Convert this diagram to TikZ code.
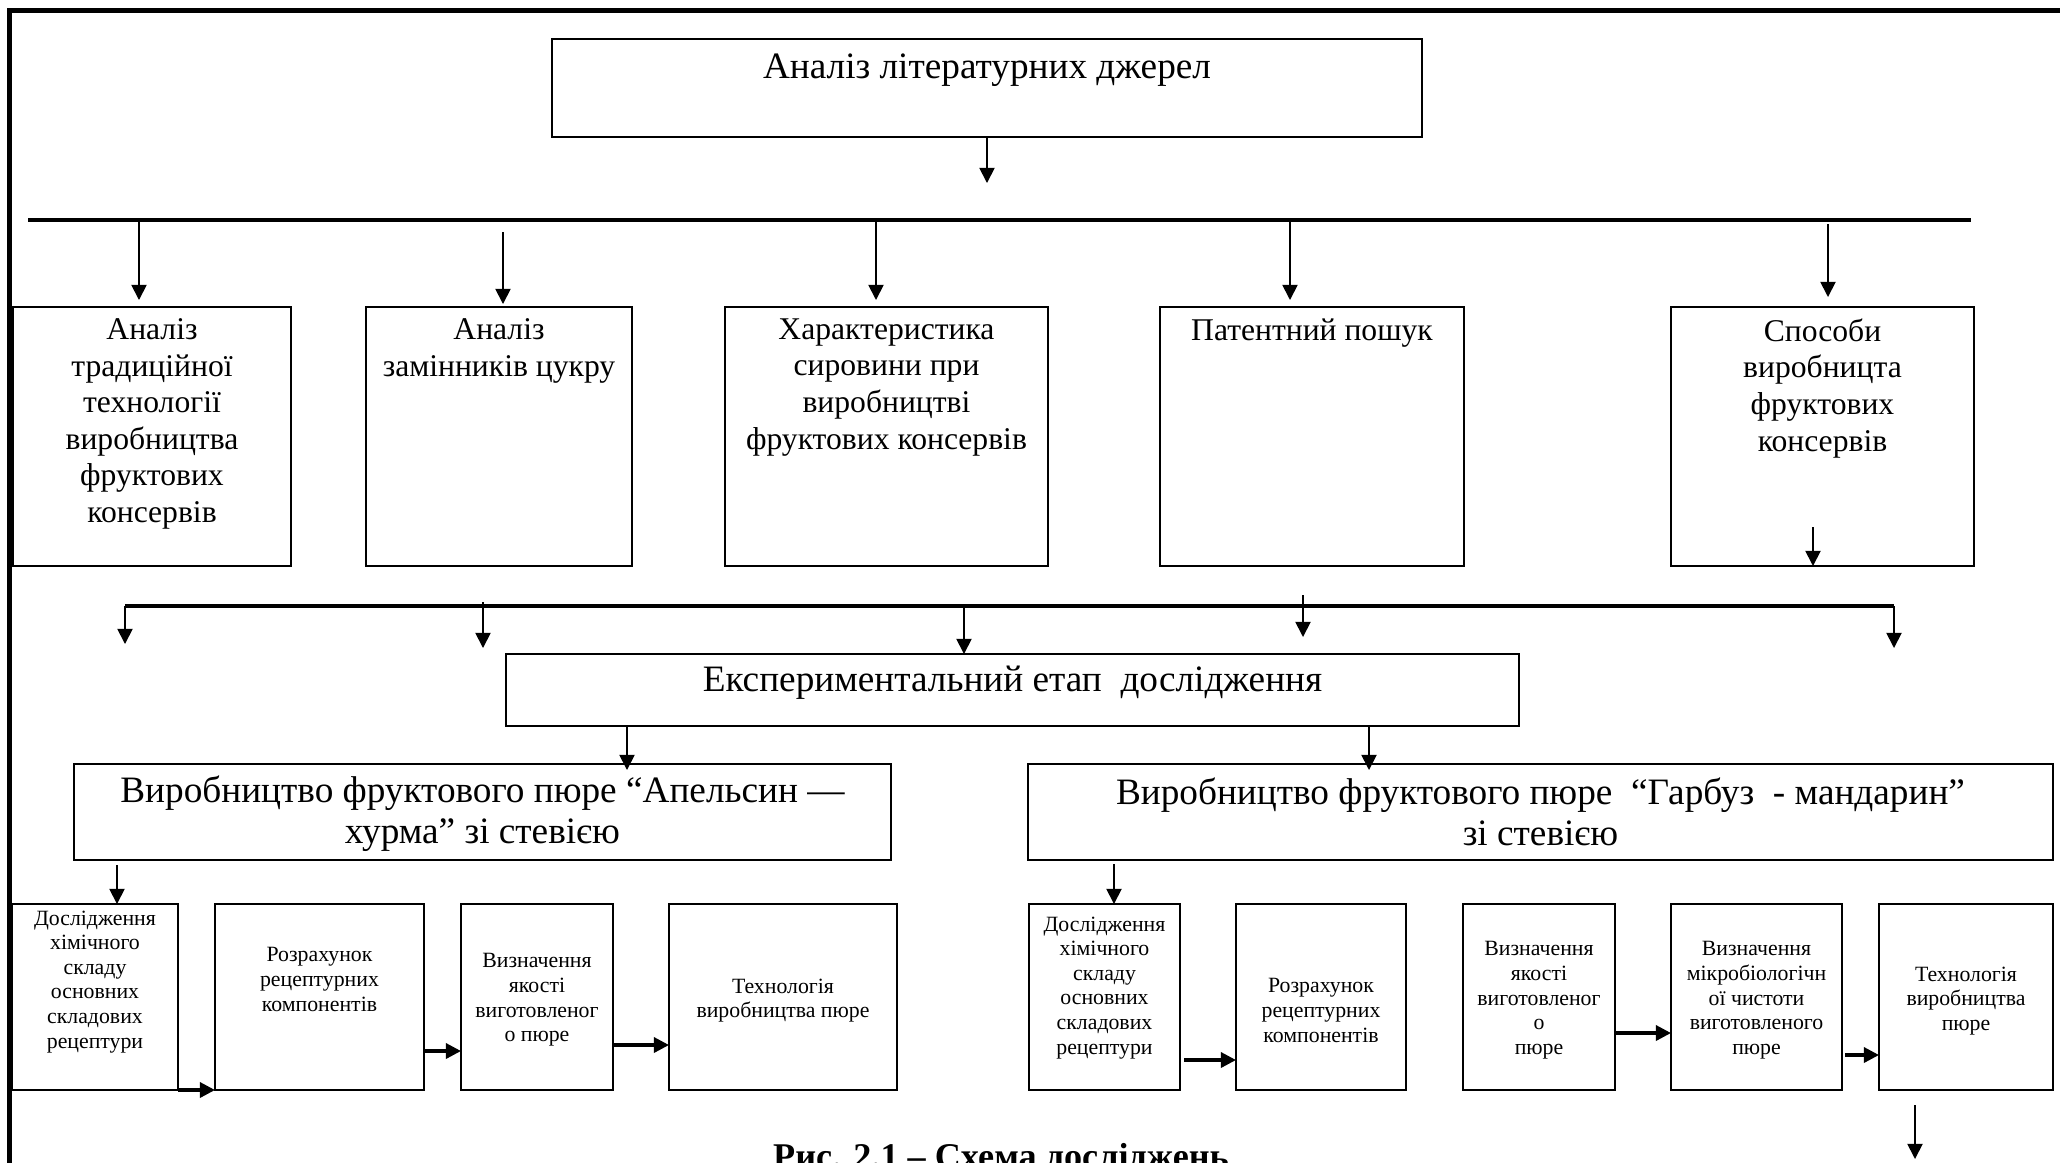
\documentclass[tikz,border=0pt]{standalone}
\usepackage{fontspec}
\setmainfont{Liberation Serif}
\usetikzlibrary{arrows.meta,positioning}

\begin{document}
\begin{tikzpicture}[
    >={Triangle[length=4.3pt,width=4.3pt]},
    box/.style={draw, line width=0.6pt, inner sep=0pt, outer sep=0pt},
    arr/.style={->, line width=0.5pt},
    harr/.style={->, line width=0.9pt},
    bus/.style={line width=0.9pt},
    head/.style={font=\fontsize{10.6}{12}\selectfont, inner sep=0pt, anchor=north},
    mid/.style={font=\fontsize{9}{10.4}\selectfont, align=center, inner sep=0pt, anchor=north},
    prod/.style={font=\fontsize{10.6}{11.7}\selectfont, align=center, inner sep=0pt, anchor=north},
    small/.style={font=\fontsize{6.2}{7}\selectfont, align=center, inner sep=0pt, anchor=north},
  ]
  \useasboundingbox (0,0) rectangle (20.60,-11.62);
  % page frame
  \draw[line width=1.4pt] (0.095,-11.80) -- (0.095,-0.105) -- (20.80,-0.105);

  % literature review
  \node[box, minimum width=8.70cm, minimum height=0.98cm] (lit) at (9.87,-0.88) {};
  \node[head] (litT) at (9.87,-0.53) {Аналіз літературних джерел};
  \coordinate (bus1L) at (0.28,-2.20);
  \coordinate (bus1R) at (19.71,-2.20);
  \draw[arr] (lit.south) -- ++(0,-0.46);
  \draw[bus] (bus1L) -- (bus1R);

  \node[box, minimum width=2.78cm, minimum height=2.59cm] (b1) at (1.52,-4.365) {};
  \node[box, minimum width=2.66cm, minimum height=2.59cm] (b2) at (4.99,-4.365) {};
  \node[box, minimum width=3.23cm, minimum height=2.59cm] (b3) at (8.865,-4.365) {};
  \node[box, minimum width=3.04cm, minimum height=2.59cm] (b4) at (13.12,-4.365) {};
  \node[box, minimum width=3.03cm, minimum height=2.59cm] (b5) at (18.225,-4.365) {};
  \node[mid] (b1T) at (1.52,-3.18) {Аналіз\\традиційної\\технології\\виробництва\\фруктових\\консервів};
  \node[mid] (b2T) at (4.99,-3.18) {Аналіз\\замінників цукру};
  \node[mid] (b3T) at (8.865,-3.18) {Характеристика\\сировини при\\виробництві\\фруктових консервів};
  \node[mid] (b4T) at (13.12,-3.18) {Патентний пошук};
  \node[mid] (b5T) at (18.225,-3.18) {Способи\\виробницта\\фруктових\\консервів};

  \draw[arr] ([xshift=-0.13cm]b1.north |- bus1L) -- ([xshift=-0.13cm,yshift=0.07cm]b1.north);
  \draw[arr] ([xshift=0.04cm,yshift=-0.12cm]b2.north |- bus1L) -- ([xshift=0.04cm,yshift=0.03cm]b2.north);
  \draw[arr] ([xshift=-0.105cm]b3.north |- bus1L) -- ([xshift=-0.105cm,yshift=0.07cm]b3.north);
  \draw[arr] ([xshift=-0.22cm]b4.north |- bus1L) -- ([xshift=-0.22cm,yshift=0.07cm]b4.north);
  \draw[arr] ([xshift=0.055cm,yshift=-0.04cm]b5.north |- bus1L) -- ([xshift=0.055cm,yshift=0.10cm]b5.north);
  \draw[arr] ([xshift=-0.095cm,yshift=0.39cm]b5.south) -- ([xshift=-0.095cm]b5.south);

  % experimental stage
  \coordinate (bus2L) at (1.25,-6.06);
  \coordinate (bus2R) at (18.94,-6.06);
  \draw[bus] (bus2L) -- (bus2R);
  \node[box, minimum width=10.13cm, minimum height=0.72cm] (exp) at (10.125,-6.90) {};
  \node[head] (expT) at (10.125,-6.65) {Експериментальний етап~~дослідження};
  \draw[arr] (bus2L) -- ++(0,-0.38);
  \draw[arr] (bus2R) -- ++(0,-0.42);
  \draw[arr] ([shift={(3.58,0.04)}]bus2L) -- ++(0,-0.46);
  \draw[arr] ([xshift=-0.485cm]exp.north |- bus2L) -- ([xshift=-0.485cm]exp.north);
  \draw[arr] ([shift={(11.78,0.11)}]bus2L) -- ++(0,-0.42);

  \node[box, minimum width=8.17cm, minimum height=0.96cm] (pl) at (4.825,-8.12) {};
  \node[prod] (plT) at (4.825,-7.75) {Виробництво фруктового пюре “Апельсин —\\хурма” зі стевією};
  \node[box, minimum width=10.25cm, minimum height=0.96cm] (pr) at (15.405,-8.12) {};
  \node[prod] (prT) at (15.405,-7.77) {Виробництво фруктового пюре~~“Гарбуз~~- мандарин”\\зі стевією};
  \draw[arr] ([xshift=1.445cm]pl.north |- exp.south) -- ([xshift=1.445cm,yshift=-0.06cm]pl.north);
  \draw[arr] ([xshift=-1.715cm]pr.north |- exp.south) -- ([xshift=-1.715cm,yshift=-0.06cm]pr.north);

  % steps, left
  \node[box, minimum width=1.66cm, minimum height=1.86cm] (B1) at (0.95,-9.97) {};
  \node[box, minimum width=2.09cm, minimum height=1.86cm] (B2) at (3.195,-9.97) {};
  \node[box, minimum width=1.52cm, minimum height=1.86cm] (B3) at (5.37,-9.97) {};
  \node[box, minimum width=2.28cm, minimum height=1.86cm] (B4) at (7.83,-9.97) {};
  \node[small] (B1T) at (0.95,-9.10) {Дослідження\\хімічного\\складу\\основних\\складових\\рецептури};
  \node[small] (B2T) at (3.195,-9.47) {Розрахунок\\рецептурних\\компонентів};
  \node[small] (B3T) at (5.37,-9.53) {Визначення\\якості\\виготовленог\\о пюре};
  \node[small] (B4T) at (7.83,-9.78) {Технологія\\виробництва пюре};
  \draw[arr] ([xshift=0.22cm,yshift=-0.05cm]B1.north |- pl.south) -- ([xshift=0.22cm]B1.north);
  \draw[harr] (B1.south east) -- (B2.south west);
  \draw[harr] ([yshift=-0.54cm]B2.east) -- ([yshift=-0.54cm]B3.west);
  \draw[harr] ([yshift=-0.48cm]B3.east) -- ([yshift=-0.48cm]B4.west);

  % steps, right
  \node[box, minimum width=1.51cm, minimum height=1.86cm] (R1) at (11.045,-9.97) {};
  \node[box, minimum width=1.70cm, minimum height=1.86cm] (R2) at (13.21,-9.97) {};
  \node[box, minimum width=1.52cm, minimum height=1.86cm] (R3) at (15.39,-9.97) {};
  \node[box, minimum width=1.71cm, minimum height=1.86cm] (R4) at (17.565,-9.97) {};
  \node[box, minimum width=1.74cm, minimum height=1.86cm] (R5) at (19.66,-9.97) {};
  \node[small] (R1T) at (11.045,-9.16) {Дослідження\\хімічного\\складу\\основних\\складових\\рецептури};
  \node[small] (R2T) at (13.21,-9.78) {Розрахунок\\рецептурних\\компонентів};
  \node[small] (R3T) at (15.39,-9.41) {Визначення\\якості\\виготовленог\\о\\пюре};
  \node[small] (R4T) at (17.565,-9.41) {Визначення\\мікробіологічн\\ої чистоти\\виготовленого\\пюре};
  \node[small] (R5T) at (19.66,-9.66) {Технологія\\виробництва\\пюре};
  \draw[arr] ([xshift=0.095cm,yshift=-0.04cm]R1.north |- pr.south) -- ([xshift=0.095cm]R1.north);
  \draw[harr, shorten <=0.04cm] ([yshift=-0.63cm]R1.east) -- ([yshift=-0.63cm]R2.west);
  \draw[harr] ([yshift=-0.36cm]R3.east) -- ([yshift=-0.36cm]R4.west);
  \draw[harr, shorten <=0.03cm] ([yshift=-0.58cm]R4.east) -- ([yshift=-0.58cm]R5.west);
  \draw[arr] ([xshift=-0.51cm,yshift=-0.15cm]R5.south) -- ++(0,-0.54);

  \node[font=\bfseries\fontsize{10.3}{12}\selectfont, inner sep=0pt, anchor=base] (cap) at (10.01,-11.68) {Рис. 2.1 – Схема досліджень};
\end{tikzpicture}
\end{document}
